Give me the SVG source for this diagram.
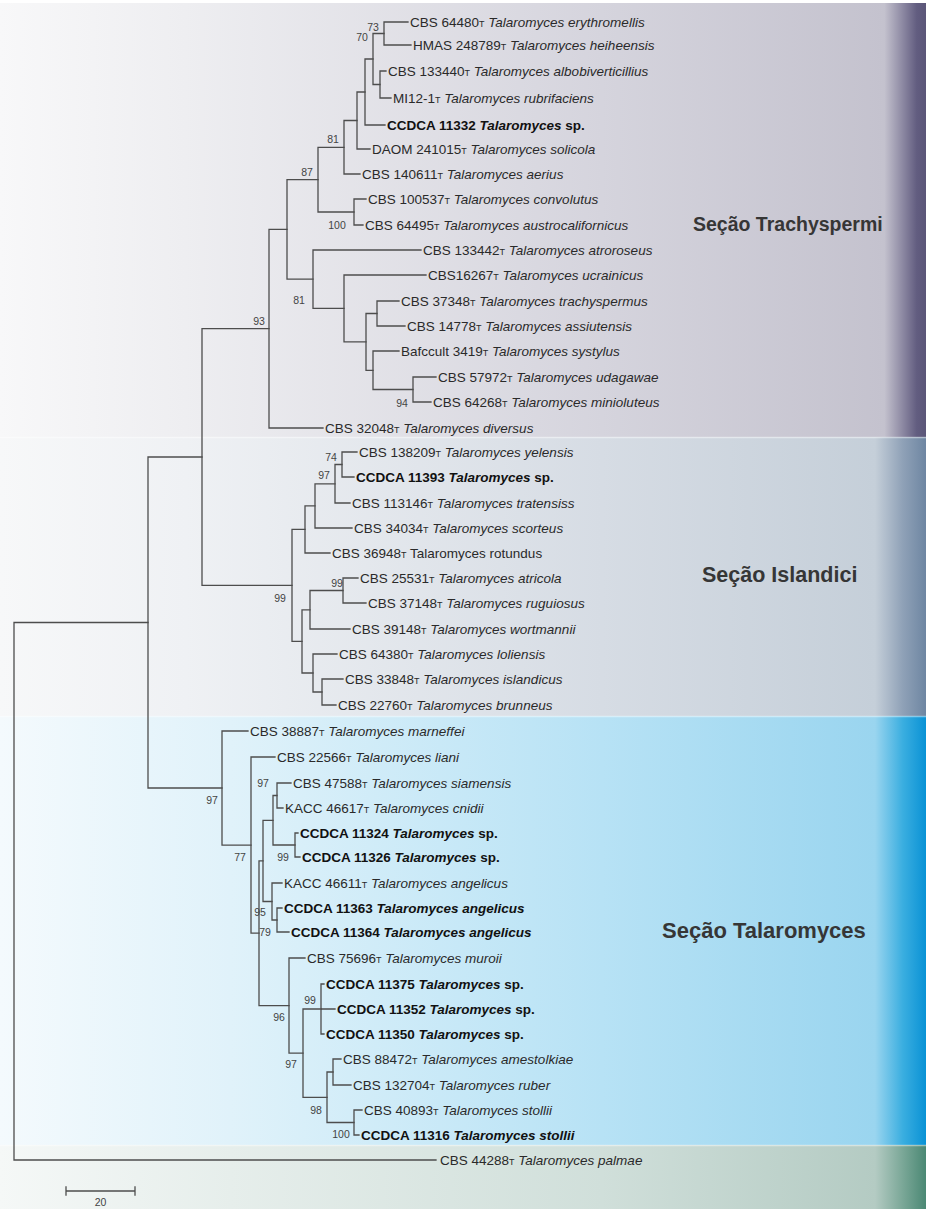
<svg xmlns="http://www.w3.org/2000/svg" width="926" height="1209" viewBox="0 0 926 1209">
  <defs>
    <linearGradient id="bgTrachy" x1="0" y1="0" x2="1" y2="0">
      <stop offset="0" stop-color="#f8f8f9"/>
      <stop offset="0.2" stop-color="#eeeef1"/>
      <stop offset="0.65" stop-color="#d5d4dd"/>
      <stop offset="0.955" stop-color="#c4c2ce"/>
      <stop offset="0.975" stop-color="#8c88a2"/>
      <stop offset="0.99" stop-color="#625d80"/>
      <stop offset="1" stop-color="#5b5678"/>
    </linearGradient>
    <linearGradient id="bgIsland" x1="0" y1="0" x2="1" y2="0">
      <stop offset="0" stop-color="#f7f8f9"/>
      <stop offset="0.2" stop-color="#eff1f4"/>
      <stop offset="0.65" stop-color="#d6dce4"/>
      <stop offset="0.945" stop-color="#c5cfd9"/>
      <stop offset="0.975" stop-color="#8fa1b7"/>
      <stop offset="1" stop-color="#6e86a2"/>
    </linearGradient>
    <linearGradient id="bgTalaro" x1="0" y1="0" x2="1" y2="0">
      <stop offset="0" stop-color="#f4fafd"/>
      <stop offset="0.25" stop-color="#e0f2fa"/>
      <stop offset="0.65" stop-color="#b7e2f5"/>
      <stop offset="0.945" stop-color="#9ad5ef"/>
      <stop offset="0.975" stop-color="#3aaee0"/>
      <stop offset="1" stop-color="#0a92d5"/>
    </linearGradient>
    <linearGradient id="bgPalmae" x1="0" y1="0" x2="1" y2="0">
      <stop offset="0" stop-color="#f5f8f7"/>
      <stop offset="0.25" stop-color="#e6eeeb"/>
      <stop offset="0.65" stop-color="#d0dfda"/>
      <stop offset="0.945" stop-color="#b4cbc3"/>
      <stop offset="0.975" stop-color="#7aa797"/>
      <stop offset="1" stop-color="#4b8874"/>
    </linearGradient>
    <style>
      .lf { font-family: "Liberation Sans", Arial, sans-serif; font-size: 13.5px; fill: #2a2a2a; }
      .b { font-weight: bold; fill: #111; }
      .it { font-style: italic; }
      .t { font-size: 9px; }
      .bs { font-family: "Liberation Sans", Arial, sans-serif; font-size: 10.5px; fill: #444; text-anchor: middle; }
      .sec { font-family: "Liberation Sans", Arial, sans-serif; font-weight: bold; fill: #363636; }
      .br { fill: none; stroke: #4d4d4d; stroke-width: 1.3; stroke-linecap: square; }
      .edge { stroke: #ffffff; stroke-opacity: 0.45; stroke-width: 1.5; }
    </style>
  </defs>

  <!-- section backgrounds -->
  <g id="backgrounds">
    <rect x="0" y="0" width="926" height="1209" fill="#ffffff"/>
    <rect x="0" y="3" width="926" height="434" fill="url(#bgTrachy)"/>
    <rect x="0" y="437" width="926" height="279" fill="url(#bgIsland)"/>
    <rect x="0" y="716" width="926" height="429" fill="url(#bgTalaro)"/>
    <rect x="0" y="1145" width="926" height="64" fill="url(#bgPalmae)"/>
    <line class="edge" x1="0" y1="437.5" x2="926" y2="437.5"/>
    <line class="edge" x1="0" y1="716.5" x2="926" y2="716.5"/>
    <line class="edge" x1="0" y1="1145.5" x2="926" y2="1145.5"/>
  </g>

  <!-- section labels -->
  <g id="section-trachyspermi"><text class="sec" x="693" y="231" font-size="19.5">Seção Trachyspermi</text></g>
  <g id="section-islandici"><text class="sec" x="702" y="582" font-size="21.5">Seção Islandici</text></g>
  <g id="section-talaromyces"><text class="sec" x="662" y="938" font-size="22">Seção Talaromyces</text></g>

  <!-- tree branches -->
  <g id="connectors" class="br">
    <!-- Trachyspermi -->
    <path d="M384,22 V45 M384,22 H408 M384,45 H411"/>
    <path d="M380,71 V98 M380,71 H386 M380,98 H391"/>
    <path d="M373,33.5 V84.5 M373,33.5 H384 M373,84.5 H380"/>
    <path d="M365,59 V125 M365,59 H373 M365,125 H385"/>
    <path d="M357,92 V149 M357,92 H365 M357,149 H370"/>
    <path d="M344,120.5 V174 M344,120.5 H357 M344,174 H360"/>
    <path d="M354,199 V225 M354,199 H366 M354,225 H363"/>
    <path d="M318,147.3 V212 M318,147.3 H344 M318,212 H354"/>
    <path d="M377,301 V326 M377,301 H399 M377,326 H405"/>
    <path d="M413,377 V402 M413,377 H436 M413,402 H431"/>
    <path d="M373,351 V389.5 M373,351 H399 M373,389.5 H413"/>
    <path d="M366,313.5 V370.3 M366,313.5 H377 M366,370.3 H373"/>
    <path d="M344,275 V341.9 M344,275 H426 M344,341.9 H366"/>
    <path d="M313,250 V308.4 M313,250 H421 M313,308.4 H344"/>
    <path d="M287,179.6 V279.2 M287,179.6 H318 M287,279.2 H313"/>
    <path d="M269,229.4 V428 M269,229.4 H287 M269,428 H323"/>
    <path d="M202,328.7 V585.4 M202,328.7 H269 M202,585.4 H292"/>
    <!-- Islandici -->
    <path d="M342,452 V477 M342,452 H357 M342,477 H354"/>
    <path d="M335,464.5 V503 M335,464.5 H342 M335,503 H350"/>
    <path d="M315,483.8 V528 M315,483.8 H335 M315,528 H352"/>
    <path d="M305,505.9 V553 M305,505.9 H315 M305,553 H330"/>
    <path d="M343,578 V603 M343,578 H358 M343,603 H366"/>
    <path d="M310,590.5 V629 M310,590.5 H343 M310,629 H350"/>
    <path d="M322,679 V705 M322,679 H343 M322,705 H336"/>
    <path d="M313,654 V692 M313,654 H337 M313,692 H322"/>
    <path d="M302,609.8 V673 M302,609.8 H310 M302,673 H313"/>
    <path d="M292,529.4 V641.4 M292,529.4 H305 M292,641.4 H302"/>
    <path d="M148,457 V788 M148,457 H202 M148,788 H222"/>
    <!-- Talaromyces -->
    <path d="M277,783 V808 M277,783 H291 M277,808 H283"/>
    <path d="M295,833 V857 M295,833 H298 M295,857 H300"/>
    <path d="M273,795.5 V845 M273,795.5 H277 M273,845 H295"/>
    <path d="M277,908 V932 M277,908 H282 M277,932 H289"/>
    <path d="M272,883 V920 M272,883 H282 M272,920 H277"/>
    <path d="M263,820.3 V901.5 M263,820.3 H273 M263,901.5 H272"/>
    <path d="M321,984 V1034 M321,984 H324 M321,1009 H335 M321,1034 H324"/>
    <path d="M333,1059 V1085 M333,1059 H341 M333,1085 H351"/>
    <path d="M354,1110 V1135 M354,1110 H362 M354,1135 H359"/>
    <path d="M327,1072 V1122.5 M327,1072 H333 M327,1122.5 H354"/>
    <path d="M303,1009 V1097.3 M303,1009 H321 M303,1097.3 H327"/>
    <path d="M289,958 V1053.1 M289,958 H305 M289,1053.1 H303"/>
    <path d="M259,860.9 V1005.6 M259,860.9 H263 M259,1005.6 H289"/>
    <path d="M251,757 V933.2 M251,757 H275 M251,933.2 H259"/>
    <path d="M222,731 V845.1 M222,731 H248 M222,845.1 H251"/>
    <!-- root and outgroup -->
    <path d="M14,622.5 V1160 M14,622.5 H148 M14,1160 H436"/>
  </g>

  <!-- bootstrap support values -->
  <g id="support">
    <text class="bs" x="373" y="31">73</text>
    <text class="bs" x="362" y="41">70</text>
    <text class="bs" x="333" y="143">81</text>
    <text class="bs" x="307" y="176">87</text>
    <text class="bs" x="337" y="229">100</text>
    <text class="bs" x="299" y="304">81</text>
    <text class="bs" x="259" y="325">93</text>
    <text class="bs" x="402" y="407">94</text>
    <text class="bs" x="331" y="461">74</text>
    <text class="bs" x="324" y="479">97</text>
    <text class="bs" x="337" y="587">99</text>
    <text class="bs" x="280" y="602">99</text>
    <text class="bs" x="212" y="804">97</text>
    <text class="bs" x="263" y="787">97</text>
    <text class="bs" x="240" y="861">77</text>
    <text class="bs" x="283" y="861">99</text>
    <text class="bs" x="260" y="916">95</text>
    <text class="bs" x="265" y="936">79</text>
    <text class="bs" x="310" y="1004">99</text>
    <text class="bs" x="279" y="1021">96</text>
    <text class="bs" x="291" y="1068">97</text>
    <text class="bs" x="316" y="1114">98</text>
    <text class="bs" x="341" y="1138">100</text>
  </g>

  <!-- taxa: Trachyspermi -->
  <g id="leaf-erythromellis"><text class="lf" x="410" y="26.8">CBS 64480<tspan class="t">T</tspan> <tspan class="it">Talaromyces erythromellis</tspan></text></g>
  <g id="leaf-heiheensis"><text class="lf" x="413" y="49.8">HMAS 248789<tspan class="t">T</tspan> <tspan class="it">Talaromyces heiheensis</tspan></text></g>
  <g id="leaf-albobiverticillius"><text class="lf" x="388" y="75.8">CBS 133440<tspan class="t">T</tspan> <tspan class="it">Talaromyces albobiverticillius</tspan></text></g>
  <g id="leaf-rubrifaciens"><text class="lf" x="393" y="102.8">MI12-1<tspan class="t">T</tspan> <tspan class="it">Talaromyces rubrifaciens</tspan></text></g>
  <g id="leaf-ccdca11332"><text class="lf b" x="387" y="129.8">CCDCA 11332 <tspan class="it">Talaromyces</tspan> sp.</text></g>
  <g id="leaf-solicola"><text class="lf" x="372" y="153.8">DAOM 241015<tspan class="t">T</tspan> <tspan class="it">Talaromyces solicola</tspan></text></g>
  <g id="leaf-aerius"><text class="lf" x="362" y="178.8">CBS 140611<tspan class="t">T</tspan> <tspan class="it">Talaromyces aerius</tspan></text></g>
  <g id="leaf-convolutus"><text class="lf" x="368" y="203.8">CBS 100537<tspan class="t">T</tspan> <tspan class="it">Talaromyces convolutus</tspan></text></g>
  <g id="leaf-austrocalifornicus"><text class="lf" x="365" y="229.8">CBS 64495<tspan class="t">T</tspan> <tspan class="it">Talaromyces austrocalifornicus</tspan></text></g>
  <g id="leaf-atroroseus"><text class="lf" x="423" y="254.8">CBS 133442<tspan class="t">T</tspan> <tspan class="it">Talaromyces atroroseus</tspan></text></g>
  <g id="leaf-ucrainicus"><text class="lf" x="428" y="279.8">CBS16267<tspan class="t">T</tspan> <tspan class="it">Talaromyces ucrainicus</tspan></text></g>
  <g id="leaf-trachyspermus"><text class="lf" x="401" y="305.8">CBS 37348<tspan class="t">T</tspan> <tspan class="it">Talaromyces trachyspermus</tspan></text></g>
  <g id="leaf-assiutensis"><text class="lf" x="407" y="330.8">CBS 14778<tspan class="t">T</tspan> <tspan class="it">Talaromyces assiutensis</tspan></text></g>
  <g id="leaf-systylus"><text class="lf" x="401" y="355.8">Bafccult 3419<tspan class="t">T</tspan> <tspan class="it">Talaromyces systylus</tspan></text></g>
  <g id="leaf-udagawae"><text class="lf" x="438" y="381.8">CBS 57972<tspan class="t">T</tspan> <tspan class="it">Talaromyces udagawae</tspan></text></g>
  <g id="leaf-minioluteus"><text class="lf" x="433" y="406.8">CBS 64268<tspan class="t">T</tspan> <tspan class="it">Talaromyces minioluteus</tspan></text></g>
  <g id="leaf-diversus"><text class="lf" x="325" y="432.8">CBS 32048<tspan class="t">T</tspan> <tspan class="it">Talaromyces diversus</tspan></text></g>

  <!-- taxa: Islandici -->
  <g id="leaf-yelensis"><text class="lf" x="359" y="456.8">CBS 138209<tspan class="t">T</tspan> <tspan class="it">Talaromyces yelensis</tspan></text></g>
  <g id="leaf-ccdca11393"><text class="lf b" x="356" y="481.8">CCDCA 11393 <tspan class="it">Talaromyces</tspan> sp.</text></g>
  <g id="leaf-tratensiss"><text class="lf" x="352" y="507.8">CBS 113146<tspan class="t">T</tspan> <tspan class="it">Talaromyces tratensiss</tspan></text></g>
  <g id="leaf-scorteus"><text class="lf" x="354" y="532.8">CBS 34034<tspan class="t">T</tspan> <tspan class="it">Talaromyces scorteus</tspan></text></g>
  <g id="leaf-rotundus"><text class="lf" x="332" y="557.8">CBS 36948<tspan class="t">T</tspan> Talaromyces rotundus</text></g>
  <g id="leaf-atricola"><text class="lf" x="360" y="582.8">CBS 25531<tspan class="t">T</tspan> <tspan class="it">Talaromyces atricola</tspan></text></g>
  <g id="leaf-ruguiosus"><text class="lf" x="368" y="607.8">CBS 37148<tspan class="t">T</tspan> <tspan class="it">Talaromyces ruguiosus</tspan></text></g>
  <g id="leaf-wortmannii"><text class="lf" x="352" y="633.8">CBS 39148<tspan class="t">T</tspan> <tspan class="it">Talaromyces wortmannii</tspan></text></g>
  <g id="leaf-loliensis"><text class="lf" x="339" y="658.8">CBS 64380<tspan class="t">T</tspan> <tspan class="it">Talaromyces loliensis</tspan></text></g>
  <g id="leaf-islandicus"><text class="lf" x="345" y="683.8">CBS 33848<tspan class="t">T</tspan> <tspan class="it">Talaromyces islandicus</tspan></text></g>
  <g id="leaf-brunneus"><text class="lf" x="338" y="709.8">CBS 22760<tspan class="t">T</tspan> <tspan class="it">Talaromyces brunneus</tspan></text></g>

  <!-- taxa: Talaromyces -->
  <g id="leaf-marneffei"><text class="lf" x="250" y="735.8">CBS 38887<tspan class="t">T</tspan> <tspan class="it">Talaromyces marneffei</tspan></text></g>
  <g id="leaf-liani"><text class="lf" x="277" y="761.8">CBS 22566<tspan class="t">T</tspan> <tspan class="it">Talaromyces liani</tspan></text></g>
  <g id="leaf-siamensis"><text class="lf" x="293" y="787.8">CBS 47588<tspan class="t">T</tspan> <tspan class="it">Talaromyces siamensis</tspan></text></g>
  <g id="leaf-cnidii"><text class="lf" x="285" y="812.8">KACC 46617<tspan class="t">T</tspan> <tspan class="it">Talaromyces cnidii</tspan></text></g>
  <g id="leaf-ccdca11324"><text class="lf b" x="300" y="837.8">CCDCA 11324 <tspan class="it">Talaromyces</tspan> sp.</text></g>
  <g id="leaf-ccdca11326"><text class="lf b" x="302" y="861.8">CCDCA 11326 <tspan class="it">Talaromyces</tspan> sp.</text></g>
  <g id="leaf-angelicus"><text class="lf" x="284" y="887.8">KACC 46611<tspan class="t">T</tspan> <tspan class="it">Talaromyces angelicus</tspan></text></g>
  <g id="leaf-ccdca11363"><text class="lf b" x="284" y="912.8">CCDCA 11363 <tspan class="it">Talaromyces angelicus</tspan></text></g>
  <g id="leaf-ccdca11364"><text class="lf b" x="291" y="936.8">CCDCA 11364 <tspan class="it">Talaromyces angelicus</tspan></text></g>
  <g id="leaf-muroii"><text class="lf" x="307" y="962.8">CBS 75696<tspan class="t">T</tspan> <tspan class="it">Talaromyces muroii</tspan></text></g>
  <g id="leaf-ccdca11375"><text class="lf b" x="326" y="988.8">CCDCA 11375 <tspan class="it">Talaromyces</tspan> sp.</text></g>
  <g id="leaf-ccdca11352"><text class="lf b" x="337" y="1013.8">CCDCA 11352 <tspan class="it">Talaromyces</tspan> sp.</text></g>
  <g id="leaf-ccdca11350"><text class="lf b" x="326" y="1038.8">CCDCA 11350 <tspan class="it">Talaromyces</tspan> sp.</text></g>
  <g id="leaf-amestolkiae"><text class="lf" x="343" y="1063.8">CBS 88472<tspan class="t">T</tspan> <tspan class="it">Talaromyces amestolkiae</tspan></text></g>
  <g id="leaf-ruber"><text class="lf" x="353" y="1089.8">CBS 132704<tspan class="t">T</tspan> <tspan class="it">Talaromyces ruber</tspan></text></g>
  <g id="leaf-stollii"><text class="lf" x="364" y="1114.8">CBS 40893<tspan class="t">T</tspan> <tspan class="it">Talaromyces stollii</tspan></text></g>
  <g id="leaf-ccdca11316"><text class="lf b" x="361" y="1139.8">CCDCA 11316 <tspan class="it">Talaromyces stollii</tspan></text></g>

  <!-- outgroup -->
  <g id="leaf-palmae"><text class="lf" x="440" y="1164.8">CBS 44288<tspan class="t">T</tspan> <tspan class="it">Talaromyces palmae</tspan></text></g>

  <!-- scale bar -->
  <g id="scale-bar">
    <path class="br" d="M66,1191 H135 M66,1187 V1195 M135,1187 V1195"/>
    <text class="bs" x="100.5" y="1206" font-size="10.5">20</text>
  </g>
</svg>
